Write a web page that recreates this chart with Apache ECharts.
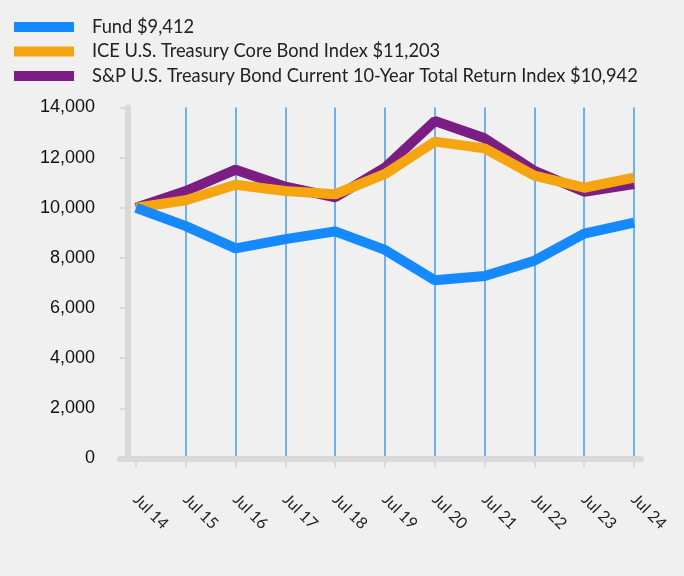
<!DOCTYPE html>
<html>
<head>
<meta charset="utf-8">
<script src="https://cdn.jsdelivr.net/npm/echarts@6/dist/echarts.min.js"></script>
<style>
html,body{margin:0;padding:0;background:#f0f0f0;}
#c{width:684px;height:576px;}
</style>
</head>
<body>
<div id="c"></div>
<script>
var categories = ['Jul 14','Jul 15','Jul 16','Jul 17','Jul 18','Jul 19','Jul 20','Jul 21','Jul 22','Jul 23','Jul 24'];
var fundName = 'Fund $9,412';
var iceName = 'ICE U.S. Treasury Core Bond Index $11,203';
var spName = 'S&P U.S. Treasury Bond Current 10-Year Total Return Index $10,942';
var fundValues = [10000, 9270, 8380, 8750, 9060, 8320, 7110, 7280, 7890, 8970, 9412];
var iceValues = [10000, 10300, 10920, 10670, 10540, 11350, 12640, 12370, 11280, 10800, 11203];
var spValues = [10000, 10670, 11520, 10840, 10420, 11600, 13460, 12770, 11470, 10640, 10942];
var yTicks = {min: 0, max: 14000, interval: 2000};

var chart = echarts.init(document.getElementById('c'), null, {renderer: 'canvas'});
var grey = '#d9d9d9';
var option = {
  backgroundColor: '#f0f0f0',
  animation: false,
  legend: {
    orient: 'vertical',
    left: 9,
    top: 10,
    itemWidth: 60,
    itemHeight: 10,
    itemGap: 0.5,
    icon: 'rect',
    data: [fundName, iceName, spName],
    textStyle: {
      fontFamily: 'Lato',
      fontSize: 18.3,
      color: '#222',
      lineHeight: 24,
      padding: [0, 0, 0, 13]
    }
  },
  grid: [
    {left: 136, right: 50, top: 107.5, bottom: 117.5},
    {left: 120, right: 43, top: 107.5, bottom: 117.5}
  ],
  xAxis: [
    {
      type: 'category',
      gridIndex: 0,
      data: categories,
      boundaryGap: false,
      axisLine: {show: false},
      axisTick: {show: true, length: 9, lineStyle: {color: grey, width: 2}},
      axisLabel: {
        rotate: -45,
        align: 'left',
        verticalAlign: 'top',
        margin: 27,
        padding: [0, 0, 0, 8],
        fontFamily: 'Lato',
        fontSize: 16,
        color: '#222'
      },
      splitLine: {
        show: true,
        interval: function (idx) { return idx !== 0; },
        lineStyle: {color: '#6cb0fa', width: 2}
      }
    },
    {
      type: 'value',
      gridIndex: 1,
      min: 0, max: 1,
      axisLine: {show: true, onZero: false, lineStyle: {color: grey, width: 6}},
      axisTick: {show: false},
      axisLabel: {show: false},
      splitLine: {show: false}
    }
  ],
  yAxis: [
    {
      type: 'value',
      gridIndex: 0,
      min: yTicks.min,
      max: yTicks.max,
      interval: yTicks.interval,
      offset: 8,
      axisLine: {show: false},
      axisTick: {show: true, length: 8, lineStyle: {color: grey, width: 2}},
      axisLabel: {
        margin: 33,
        fontFamily: 'Liberation Sans',
        fontSize: 18,
        color: '#111',
        formatter: function (v) { return v.toLocaleString('en-US'); }
      },
      splitLine: {show: false}
    },
    {
      type: 'value',
      gridIndex: 1,
      min: 0, max: 1,
      offset: -8,
      axisLine: {show: true, lineStyle: {color: grey, width: 6}},
      axisTick: {show: false},
      axisLabel: {show: false},
      splitLine: {show: false}
    }
  ],
  series: [
    {name: spName, type: 'line', xAxisIndex: 0, yAxisIndex: 0, data: spValues, symbol: 'none',
     itemStyle: {color: '#7b1d82'}, lineStyle: {color: '#7b1d82', width: 10}},
    {name: iceName, type: 'line', xAxisIndex: 0, yAxisIndex: 0, data: iceValues, symbol: 'none',
     itemStyle: {color: '#f5a50f'}, lineStyle: {color: '#f5a50f', width: 10}},
    {name: fundName, type: 'line', xAxisIndex: 0, yAxisIndex: 0, data: fundValues, symbol: 'none',
     itemStyle: {color: '#1589ff'}, lineStyle: {color: '#1589ff', width: 10}}
  ]
};
chart.setOption(option);
</script>
</body>
</html>
